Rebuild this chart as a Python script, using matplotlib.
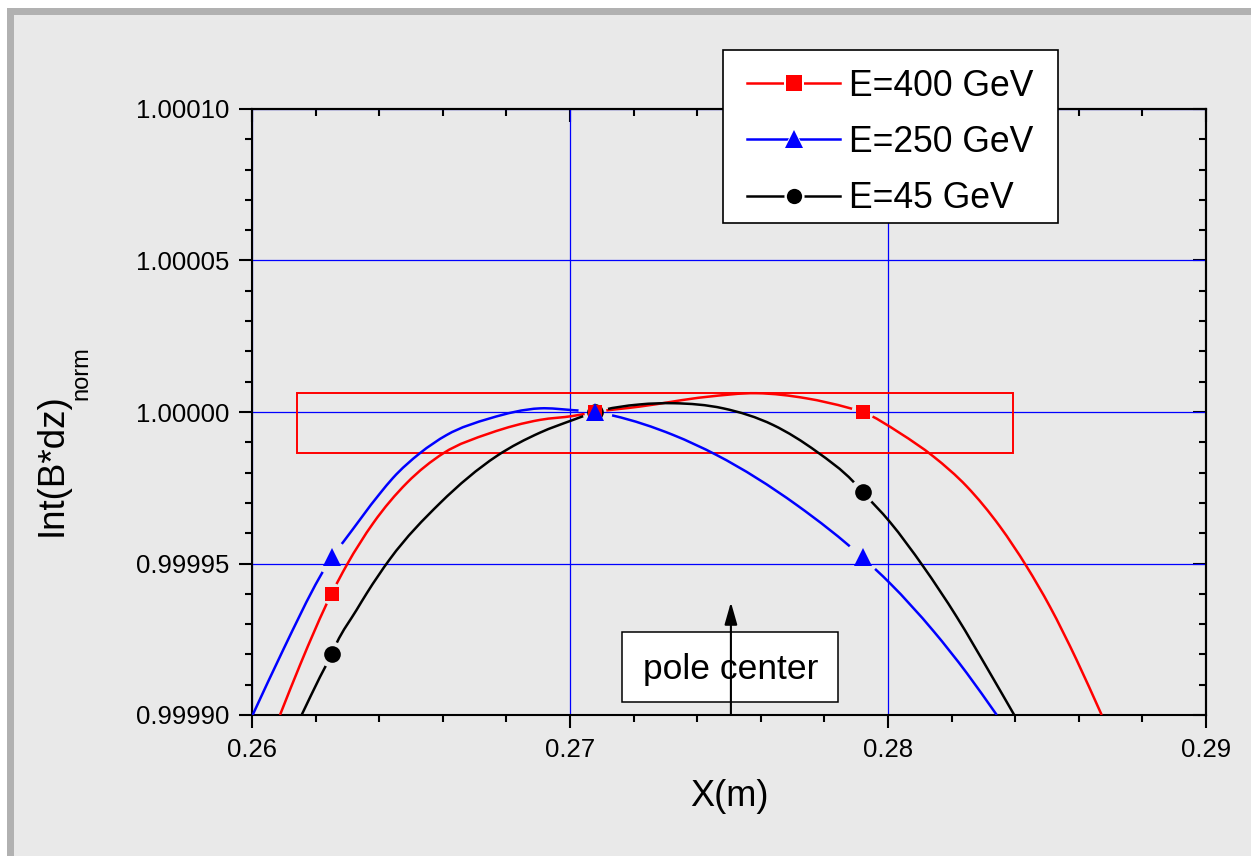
import matplotlib
matplotlib.use('Agg')
import numpy as np
import matplotlib.pyplot as plt
from matplotlib.patches import Rectangle, PathPatch
from matplotlib.lines import Line2D
from matplotlib.path import Path
from matplotlib.transforms import IdentityTransform
from matplotlib.legend_handler import HandlerTuple
from matplotlib.ticker import FixedLocator, MultipleLocator

plt.rcParams['font.family'] = ['Liberation Sans', 'DejaVu Sans']

# ---------------- data ----------------
x_ticks = [0.26, 0.27, 0.28, 0.29]
x_ticklabels = ['0.26', '0.27', '0.28', '0.29']
y_ticks = [0.99990, 0.99995, 1.00000, 1.00005, 1.00010]
y_ticklabels = ['0.99990', '0.99995', '1.00000', '1.00005', '1.00010']

labels = ['E=400 GeV', 'E=250 GeV', 'E=45 GeV']

marker_x = [0.2625, 0.2708, 0.2792]

x_400 = [0.26088, 0.26151, 0.2625, 0.26298, 0.26381, 0.26487, 0.26602,
         0.26748, 0.26906, 0.27010, 0.2708, 0.27220, 0.27430, 0.27587, 0.27744,
         0.27875, 0.2792, 0.28038, 0.28143, 0.28248, 0.28352, 0.28436, 0.28509,
         0.28593, 0.28672]
y_400 = [0.99990, 0.9999165, 0.99994, 0.9999495, 0.9999633, 0.9999766, 0.9999864,
         0.999993, 0.9999974, 0.9999987, 1.0, 1.0000018, 1.000005, 1.0000062, 1.0000045,
         1.0000014, 1.0, 0.999993, 0.9999853, 0.9999754, 0.9999622, 0.999949, 0.9999358,
         0.9999182, 0.99990]
m_400 = [0.99994, 1.0, 1.0]

x_250 = [0.26002, 0.26098, 0.26214, 0.2625, 0.26287, 0.26403, 0.26443, 0.26528,
         0.26612, 0.26748, 0.26906, 0.27010, 0.2708, 0.27136, 0.27325, 0.27461,
         0.27713, 0.2792, 0.28006, 0.28143, 0.28248, 0.28342]
y_250 = [0.99990, 0.9999215, 0.9999457, 0.999952, 0.9999571, 0.9999732, 0.9999782, 0.9999864,
         0.9999924, 0.9999979, 1.0000012, 1.0000006, 1.0, 0.9999988, 0.9999924, 0.9999858,
         0.9999693, 0.999952, 0.9999435, 0.9999277, 0.9999138, 0.99990]
m_250 = [0.999952, 1.0, 0.999952]

x_45 = [0.26156, 0.26214, 0.2625, 0.26266, 0.26329, 0.26361, 0.26434, 0.26591,
        0.26770, 0.26906, 0.27010, 0.2708, 0.27220, 0.27325, 0.27482, 0.27639,
        0.27776, 0.27891, 0.2792, 0.28006, 0.28111, 0.28216, 0.28321, 0.28397]
y_45 = [0.99990, 0.9999126, 0.99992, 0.9999237, 0.9999347, 0.9999402, 0.9999515, 0.9999699,
        0.9999855, 0.9999932, 0.9999974, 1.0, 1.0000025, 1.0000029, 1.0000012, 0.9999957,
        0.9999869, 0.999977, 0.9999736, 0.9999637, 0.999949, 0.9999324, 0.9999138, 0.99990]
m_45 = [0.99992, 1.0, 0.9999736]

# ---------------- layout ----------------
W, H, DPI = 1251, 856, 100
BG = '#e9e9e9'
BORDER = '#b1b1b1'


def fx(px):
    return px / W


def fy(py):
    return 1 - py / H


fig = plt.figure(figsize=(W / DPI, H / DPI), dpi=DPI, facecolor='white')
fig.patches.append(Rectangle((fx(9.5), -0.1), 1.2, 1.1 - 10.5 / H,
                             transform=fig.transFigure, facecolor=BG,
                             edgecolor=BORDER, linewidth=7 * 72 / DPI, zorder=-10))

ax = fig.add_axes([fx(252), fy(715), fx(1206) - fx(252), (715 - 109) / H])
ax.set_facecolor('none')
ax.set_xlim(0.26, 0.29)
ax.set_ylim(0.99990, 1.00010)

ax.xaxis.set_major_locator(FixedLocator(x_ticks))
ax.set_xticklabels(x_ticklabels)
ax.yaxis.set_major_locator(FixedLocator(y_ticks))
ax.set_yticklabels(y_ticklabels)
ax.xaxis.set_minor_locator(MultipleLocator(0.002))
ax.yaxis.set_minor_locator(MultipleLocator(0.00001))
ax.tick_params(which='both', direction='out', width=1.5, labelsize=18.5,
               top=False, right=False)
ax.tick_params(which='major', length=9.5)
ax.tick_params(which='minor', length=5)
ax.tick_params(axis='x', which='major', pad=7)
ax.tick_params(axis='y', which='major', pad=6.5)
for s in ax.spines.values():
    s.set_linewidth(1.5)

sx = ax.secondary_xaxis('top')
sx.xaxis.set_major_locator(FixedLocator(x_ticks))
sx.xaxis.set_minor_locator(MultipleLocator(0.002))
sx.tick_params(which='both', direction='in', width=1.5, labeltop=False)
sx.tick_params(which='major', length=9.5)
sx.tick_params(which='minor', length=5)
sx.spines['top'].set_linewidth(1.5)
sy = ax.secondary_yaxis('right')
sy.yaxis.set_major_locator(FixedLocator(y_ticks))
sy.yaxis.set_minor_locator(MultipleLocator(0.00001))
sy.tick_params(which='both', direction='in', width=1.5, labelright=False)
sy.tick_params(which='major', length=9.5)
sy.tick_params(which='minor', length=5)
sy.spines['right'].set_linewidth(1.5)

ax.set_axisbelow(True)
ax.grid(True, which='major', color='#0000ff', linewidth=0.9)

# red highlight rectangle
ax.add_patch(Rectangle((0.26142, 0.9999865), 0.02251, 0.0000198, fill=False,
                       edgecolor='#ff0000', linewidth=1.4, zorder=2))

LW = 1.8
series = [
    (x_400, y_400, m_400, '#ff0000', 's', 10.5, 22),
    (x_250, y_250, m_250, '#0000ff', '^', 13.5, 34),
    (x_45, y_45, m_45, '#000000', 'o', 12.0, 26),
]

fig.canvas.draw()
bb = ax.get_window_extent()


def circle_poly(cx, cy, r, n=72):
    t = np.linspace(0, 2 * np.pi, n, endpoint=False)[::-1]  # clockwise -> hole
    return np.column_stack([cx + r * np.cos(t), cy + r * np.sin(t)])


def smooth_path(xs, ys):
    """Smooth (Hermite/Bezier) connection through the read points, like Origin's spline connect."""
    x = np.asarray(xs, float)
    y = np.asarray(ys, float)
    h = np.diff(x)
    s = np.diff(y) / h
    d = np.empty_like(x)
    d[0], d[-1] = s[0], s[-1]
    d[1:-1] = (h[:-1] * s[1:] + h[1:] * s[:-1]) / (h[:-1] + h[1:])
    verts = [(x[0], y[0])]
    codes = [Path.MOVETO]
    for i in range(len(x) - 1):
        verts += [(x[i] + h[i] / 3, y[i] + d[i] * h[i] / 3),
                  (x[i + 1] - h[i] / 3, y[i + 1] - d[i + 1] * h[i] / 3),
                  (x[i + 1], y[i + 1])]
        codes += [Path.CURVE4] * 3
    return Path(verts, codes)


for xs, ys, ms_y, col, mk, msz, gap in series:
    patch = PathPatch(smooth_path(xs, ys), fill=False, edgecolor=col, linewidth=LW,
                      zorder=3, capstyle='butt', transform=ax.transData)
    ax.add_patch(patch)
    verts = [np.array([[bb.x0, bb.y0], [bb.x1, bb.y0], [bb.x1, bb.y1], [bb.x0, bb.y1], [bb.x0, bb.y0]])]
    codes = [[Path.MOVETO] + [Path.LINETO] * 3 + [Path.CLOSEPOLY]]
    pts = ax.transData.transform(np.column_stack([marker_x, ms_y]))
    for (cx, cy) in pts:
        cp = circle_poly(cx, cy, gap / 2.0)
        cp = np.vstack([cp, cp[:1]])
        verts.append(cp)
        codes.append([Path.MOVETO] + [Path.LINETO] * (len(cp) - 2) + [Path.CLOSEPOLY])
    clip = Path(np.vstack(verts), np.concatenate(codes))
    patch.set_clip_path(clip, IdentityTransform())

zorders = {'o': 4, 's': 4.1, '^': 4.2}
for (xs, ys, ms_y, col, mk, msz, gap) in series:
    ax.plot(marker_x, ms_y, linestyle='none', marker=mk, markersize=msz,
            markerfacecolor=col, markeredgecolor=col, markeredgewidth=0, zorder=zorders[mk],
            clip_on=False)

# legend
leg_ms = {'s': 11.5, '^': 13.0, 'o': 11.0}
handles = []
for xs, ys, ms_y, col, mk, msz, gap in series:
    h1 = Line2D([], [], color=col, linewidth=LW, marker=mk, markersize=leg_ms[mk] + 3.5,
                markerfacecolor='white', markeredgecolor='white', markeredgewidth=0)
    h2 = Line2D([], [], linestyle='none', marker=mk, markersize=leg_ms[mk],
                markerfacecolor=col, markeredgecolor=col, markeredgewidth=0)
    handles.append((h1, h2))

ax.add_patch(Rectangle((fx(722.7), fy(223.3)), fx(1057.7) - fx(722.7), (223.3 - 50) / H,
                       transform=fig.transFigure, facecolor='white', edgecolor='black',
                       linewidth=1.2, zorder=5.5, clip_on=False))
leg = ax.legend(handles, labels, handler_map={tuple: HandlerTuple(ndivide=1)},
                loc='upper left', bbox_to_anchor=(fx(747), fy(68.5)),
                bbox_transform=fig.transFigure, fontsize=25.6, frameon=False,
                handlelength=2.62, handletextpad=0.26, labelspacing=0.60,
                borderpad=0, borderaxespad=0)
leg.set_zorder(6)

# pole center annotation
ax.add_patch(Rectangle((fx(621.7), fy(702.3)), fx(837.7) - fx(621.7), (702.3 - 631.7) / H,
                       transform=fig.transFigure, facecolor='white',
                       edgecolor='black', linewidth=1.1, zorder=5))
ax.text(fx(730.4), fy(679.3), 'pole center', fontsize=25.5, ha='center', va='baseline',
        transform=fig.transFigure, zorder=6)
ax.annotate('', xy=(0.27506, 0.9999372), xytext=(0.27506, 0.99990),
            arrowprops=dict(arrowstyle='-|>,head_length=0.42,head_width=0.12',
                            mutation_scale=32, color='black', lw=1.5,
                            shrinkA=0, shrinkB=0),
            zorder=7, annotation_clip=False)

# axis labels
fig.text(fx(729), fy(805.7), 'X(m)', fontsize=26, ha='center', va='baseline')
fig.text(fx(61.7), fy(465), 'Int(B*dz)', fontsize=26.5, rotation=90,
         rotation_mode='anchor', ha='center', va='baseline')
fig.text(fx(87), fy(373), 'norm', fontsize=17, rotation=90,
         rotation_mode='anchor', ha='center', va='baseline')

fig.savefig('out.png', dpi=DPI, facecolor='white')
